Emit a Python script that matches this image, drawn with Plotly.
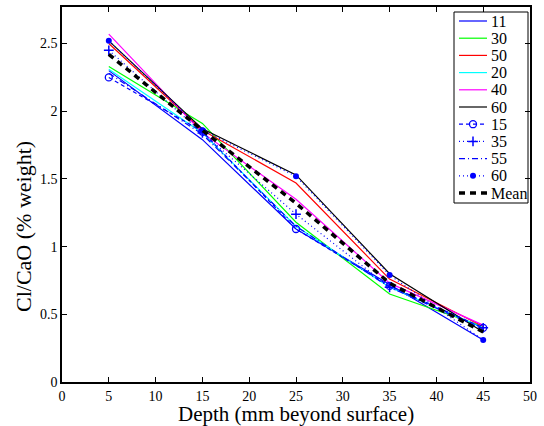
import plotly.graph_objects as go

depth = [5, 15, 25, 35, 45]
s11 = [2.30, 1.79, 1.13, 0.72, 0.31]
s30 = [2.33, 1.91, 1.18, 0.65, 0.41]
s50 = [2.50, 1.86, 1.47, 0.76, 0.41]
s20 = [2.31, 1.84, 1.15, 0.70, 0.40]
s40 = [2.57, 1.84, 1.35, 0.73, 0.42]
s60 = [2.52, 1.87, 1.53, 0.80, 0.37]
s15 = [2.25, 1.85, 1.13, 0.71, 0.40]
s35 = [2.45, 1.84, 1.24, 0.70, 0.40]
s55 = [2.28, 1.83, 1.15, 0.70, 0.39]
s60b = [2.52, 1.86, 1.52, 0.79, 0.31]
mean = [2.42, 1.86, 1.32, 0.73, 0.37]

legend_names = ["11", "30", "50", "20", "40", "60", "15", "35", "55", "60", "Mean"]
xticks = [0, 5, 10, 15, 20, 25, 30, 35, 40, 45, 50]
yticks = [0, 0.5, 1, 1.5, 2, 2.5]
ytick_labels = ["0", "0.5", "1", "1.5", "2", "2.5"]
x_title = "Depth (mm beyond surface)"
y_title = "Cl/CaO (% weight)"

values = [s11, s30, s50, s20, s40, s60, s15, s35, s55, s60b, mean]
styles = [
    (dict(color="#0000FF", width=1.2), None),
    (dict(color="#00FF00", width=1.2), None),
    (dict(color="#FF0000", width=1.2), None),
    (dict(color="#00FFFF", width=1.2), None),
    (dict(color="#FF00FF", width=1.2), None),
    (dict(color="#000000", width=1.2), None),
    (dict(color="#0000FF", width=1.2, dash="4px,3px"),
     dict(symbol="circle-open", size=7, color="#0000FF", line=dict(width=1.3))),
    (dict(color="#0000FF", width=1.2, dash="1px,3px"),
     dict(symbol="cross-thin-open", size=7, color="#0000FF", line=dict(width=1.5, color="#0000FF"))),
    (dict(color="#0000FF", width=1.2, dash="6px,3px,1px,3px"), None),
    (dict(color="#0000FF", width=1.2, dash="1px,3px"),
     dict(symbol="circle", size=6, color="#0000FF")),
    (dict(color="#000000", width=3.5, dash="6px,5px"), None),
]

font_family = "Liberation Serif"

fig = go.Figure()
for name, ys, (line, marker) in zip(legend_names, values, styles):
    kw = dict(x=depth, y=ys, name=name, line=line, showlegend=False)
    if marker is not None:
        kw["mode"] = "lines+markers"
        kw["marker"] = marker
    else:
        kw["mode"] = "lines"
    fig.add_trace(go.Scatter(**kw))

# custom legend drawn in an overlay axis measured in pixels
L, R, T, B = 62, 530, 7, 382
box_x0, box_x1, box_y0 = 454, 528, 12
row0, rowstep = 21, 17.2
sx0, sx1, tx = 459, 487, 489
box_y1 = row0 + rowstep * (len(legend_names) - 1) + 10

for i, (name, (line, marker)) in enumerate(zip(legend_names, styles)):
    yy = row0 + rowstep * i
    fig.add_trace(go.Scatter(
        x=[sx0, sx1], y=[yy, yy], xaxis="x2", yaxis="y2", mode="lines",
        line=line, showlegend=False, hoverinfo="skip"))
    if marker is not None:
        fig.add_trace(go.Scatter(
            x=[(sx0 + sx1) / 2], y=[yy], xaxis="x2", yaxis="y2", mode="markers",
            marker=marker, showlegend=False, hoverinfo="skip"))
    fig.add_annotation(x=tx, y=yy, xref="x2", yref="y2", text=name, showarrow=False,
                       xanchor="left", yanchor="middle",
                       font=dict(family=font_family, size=16, color="black"))

fig.add_shape(type="rect", xref="x2", yref="y2", x0=box_x0, x1=box_x1, y0=box_y0, y1=box_y1,
              line=dict(color="black", width=1), fillcolor="white", layer="below")


def px_to_paper_x(px):
    return (px - L) / (R - L)


def px_to_paper_y(py):
    return (B - py) / (B - T)


# axis titles
fig.add_annotation(x=0.5, y=px_to_paper_y(414), xref="paper", yref="paper", text=x_title,
                   showarrow=False, xanchor="center", yanchor="middle",
                   font=dict(family=font_family, size=21, color="black"))
fig.add_annotation(x=px_to_paper_x(23), y=px_to_paper_y(227), xref="paper", yref="paper",
                   text=y_title, showarrow=False, textangle=-90, xanchor="center", yanchor="middle",
                   font=dict(family=font_family, size=22, color="black"))

fig.update_layout(
    width=544, height=426,
    margin=dict(l=L, r=544 - R, t=T, b=426 - B),
    paper_bgcolor="white", plot_bgcolor="white",
    font=dict(family=font_family, size=14, color="black"),
    showlegend=False,
    xaxis=dict(
        range=[0, 50], tickvals=xticks, ticktext=[str(t) for t in xticks],
        showgrid=False, zeroline=False, showline=True, linecolor="black", linewidth=1.5,
        mirror="ticks", ticks="inside", ticklen=5, tickcolor="black",
        tickfont=dict(family=font_family, size=14),
        automargin=False,
    ),
    yaxis=dict(
        range=[0, 2.77], tickvals=yticks, ticktext=ytick_labels,
        showgrid=False, zeroline=False, showline=True, linecolor="black", linewidth=1.5,
        mirror="ticks", ticks="inside", ticklen=5, tickcolor="black",
        tickfont=dict(family=font_family, size=14),
        automargin=False,
    ),
    xaxis2=dict(range=[L, R], overlaying="x", anchor="y2", visible=False, fixedrange=True),
    yaxis2=dict(range=[B, T], overlaying="y", anchor="x2", visible=False, fixedrange=True),
)

fig.write_html("out.html", config={"displayModeBar": False},
               post_script="document.body.style.margin='0';")
